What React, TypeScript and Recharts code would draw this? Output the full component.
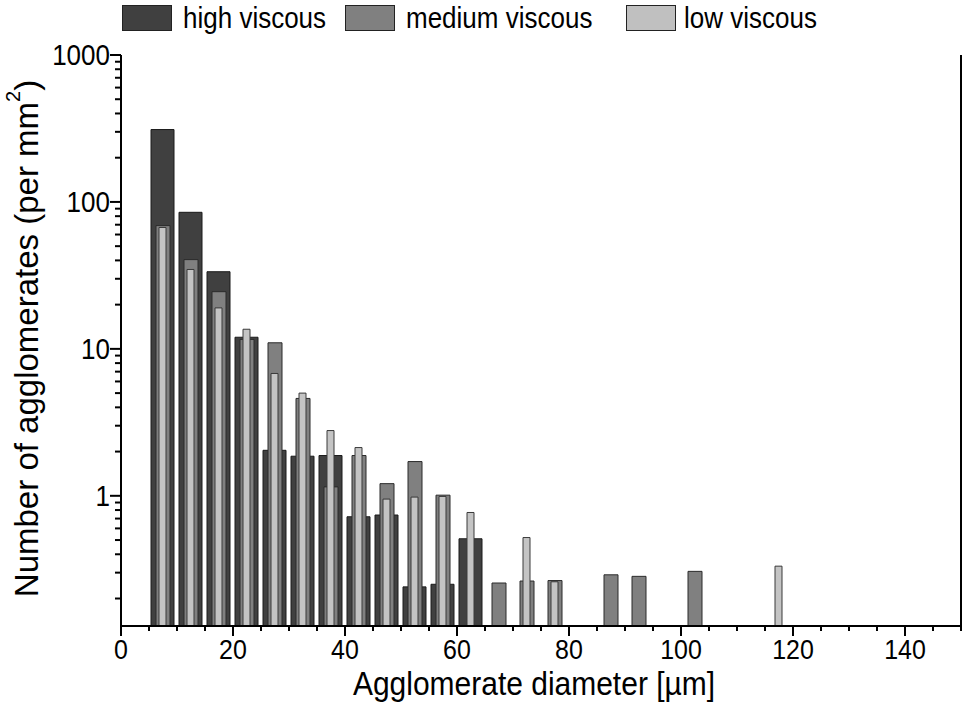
import React from "react";
import { ComposedChart, Bar, XAxis, YAxis, Label } from "recharts";

// bin centres of the diameter histogram (µm)
const diameters = [7.5, 12.5, 17.5, 22.5, 27.5, 32.5, 37.5, 42.5, 47.5, 52.5, 57.5, 62.5, 67.5, 72.5, 77.5, 87.5, 92.5, 102.5, 117.5];

const highViscous = [311, 85, 33.5, 12, 2.04, 1.86, 1.88, 0.72, 0.74, 0.24, 0.25, 0.51, null, null, null, null, null, null, null];
const mediumViscous = [69, 40.5, 24.5, 11.6, 11, 4.6, 1.15, 1.88, 1.21, 1.71, 1.01, null, 0.255, 0.263, 0.265, 0.29, 0.283, 0.306, null];
const lowViscous = [67, 34.7, 19, 13.6, 6.8, 5.0, 2.78, 2.13, 0.95, 0.98, 0.99, 0.77, null, 0.52, 0.26, null, null, null, 0.332];

const xTicks = Array.from({ length: 31 }, (_, i) => i * 5);
const topTicks = Array.from({ length: 11 }, (_, i) => i * 15);
const rightTicks = Array.from({ length: 11 }, (_, i) => i);
const yTicks = [0.2, 0.3, 0.4, 0.5, 0.6, 0.7, 0.8, 0.9, 1, 2, 3, 4, 5, 6, 7, 8, 9, 10, 20, 30, 40, 50, 60, 70, 80, 90, 100, 200, 300, 400, 500, 600, 700, 800, 900, 1000];

const data = diameters.map((d, i) => ({
    d,
    high: highViscous[i],
    medium: mediumViscous[i],
    low: lowViscous[i],
}));

const FONT = '"Liberation Sans", Arial, sans-serif';
// lettering in the original is slightly condensed (taller than wide)
const STRETCH = 1.1;

const legendItems = [
    { name: "high viscous", fill: "#404040", left: 122, textLeft: 183 },
    { name: "medium viscous", fill: "#808080", left: 345, textLeft: 406 },
    { name: "low viscous", fill: "#c0c0c0", left: 626, textLeft: 684 },
];

const TallText = ({ x, y, anchor, size, children }: any) => (
    <text
        transform={`translate(${x} ${y}) scale(1 ${STRETCH})`}
        x={0}
        y={0}
        textAnchor={anchor}
        fontSize={size}
        fontFamily={FONT}
        fill="#000"
    >
        {children}
    </text>
);

const BottomTick = (props: any) => {
    const { x, y, payload } = props;
    const major = payload.value % 20 === 0;
    return (
        <g>
            <line x1={x} x2={x} y1={y} y2={y + (major ? 10 : 5)} stroke="#000" strokeWidth={2} />
            {major && (
                <TallText x={x} y={y + 33} anchor="middle" size={25}>
                    {payload.value}
                </TallText>
            )}
        </g>
    );
};

const TopTick = (props: any) => {
    const { x, y, payload } = props;
    const major = payload.value % 30 === 0;
    return <line x1={x} x2={x} y1={y} y2={y + (major ? 10 : 5)} stroke="#000" strokeWidth={2} />;
};

const LeftTick = (props: any) => {
    const { x, y, payload } = props;
    const lg = Math.log10(payload.value);
    const major = Math.abs(lg - Math.round(lg)) < 1e-9;
    return (
        <g>
            <line x1={x} x2={x - (major ? 11 : 6)} y1={y} y2={y} stroke="#000" strokeWidth={2} />
            {major && (
                <TallText x={x - 11} y={y + 10} anchor="end" size={26}>
                    {payload.value}
                </TallText>
            )}
        </g>
    );
};

const RightTick = (props: any) => {
    const { x, y, payload } = props;
    const major = payload.value % 2 === 0;
    return <line x1={x} x2={x - (major ? 11 : 6)} y1={y} y2={y} stroke="#000" strokeWidth={2} />;
};

const YTitle = (props: any) => {
    const { viewBox } = props;
    const cx = viewBox.x + 26;
    const cy = viewBox.y + viewBox.height / 2 - 2;
    return (
        <text
            x={cx}
            y={cy}
            transform={`rotate(-90 ${cx} ${cy})`}
            textAnchor="middle"
            dominantBaseline="central"
            fontSize={33}
            fontFamily={FONT}
            fill="#000"
        >
            Number of agglomerates (per mm<tspan dy={-13} fontSize={20}>2</tspan>
            <tspan dy={13}>)</tspan>
        </text>
    );
};

const XTitle = (props: any) => {
    const { viewBox } = props;
    return (
        <TallText x={viewBox.x + viewBox.width / 2 - 7} y={viewBox.y + 69} anchor="middle" size={30}>
            Agglomerate diameter [µm]
        </TallText>
    );
};

export default function App() {
    return (
        <div style={{ position: "absolute", left: 0, top: 0, width: 963, height: 706, background: "#fff" }}>
            {legendItems.map((item) => (
                <React.Fragment key={item.name}>
                    <div
                        style={{
                            position: "absolute",
                            left: item.left,
                            top: 5,
                            width: 48,
                            height: 24,
                            background: item.fill,
                            border: "1px solid #222",
                        }}
                    />
                    <div
                        style={{
                            position: "absolute",
                            left: item.textLeft,
                            top: 0,
                            fontFamily: FONT,
                            fontSize: 26,
                            lineHeight: "36px",
                            color: "#000",
                            whiteSpace: "nowrap",
                            transform: `scaleY(${STRETCH})`,
                            transformOrigin: "0 18px",
                        }}
                    >
                        {item.name}
                    </div>
                </React.Fragment>
            ))}
            <ComposedChart width={963} height={706} data={data} margin={{ top: 55, right: 0, bottom: 0, left: 0 }}>
                <XAxis
                    xAxisId="bottom"
                    dataKey="d"
                    type="number"
                    domain={[0, 150]}
                    ticks={xTicks}
                    interval={0}
                    height={80}
                    tickSize={0}
                    tickMargin={0}
                    tickLine={false}
                    tick={BottomTick}
                    axisLine={{ stroke: "#000", strokeWidth: 2 }}
                >
                    <Label content={XTitle} />
                </XAxis>
                <XAxis xAxisId="mid" dataKey="d" type="number" domain={[0, 150]} hide />
                <XAxis xAxisId="lowx" dataKey="d" type="number" domain={[0, 150]} hide />
                <XAxis
                    xAxisId="top"
                    orientation="top"
                    type="number"
                    dataKey="d"
                    domain={[0, 150]}
                    ticks={topTicks}
                    interval={0}
                    height={0}
                    tickSize={0}
                    tickMargin={0}
                    tickLine={false}
                    tick={TopTick}
                    axisLine={{ stroke: "#000", strokeWidth: 2 }}
                />
                <YAxis
                    yAxisId="left"
                    scale="log"
                    type="number"
                    domain={[0.13, 1000]}
                    allowDataOverflow
                    ticks={yTicks}
                    interval={0}
                    width={121}
                    tickSize={0}
                    tickMargin={0}
                    tickLine={false}
                    tick={LeftTick}
                    axisLine={{ stroke: "#000", strokeWidth: 2 }}
                >
                    <Label content={YTitle} />
                </YAxis>
                <YAxis
                    yAxisId="right"
                    orientation="right"
                    type="number"
                    domain={[0, 10]}
                    ticks={rightTicks}
                    interval={0}
                    width={2}
                    tickSize={0}
                    tickMargin={0}
                    tickLine={false}
                    tick={RightTick}
                    axisLine={{ stroke: "#000", strokeWidth: 2 }}
                />
                <Bar
                    xAxisId="bottom"
                    yAxisId="left"
                    dataKey="high"
                    name="high viscous"
                    barSize={23}
                    fill="#404040"
                    stroke="#1a1a1a"
                    strokeWidth={1}
                    isAnimationActive={false}
                />
                <Bar
                    xAxisId="mid"
                    yAxisId="left"
                    dataKey="medium"
                    name="medium viscous"
                    barSize={14}
                    fill="#808080"
                    stroke="#2a2a2a"
                    strokeWidth={1}
                    isAnimationActive={false}
                />
                <Bar
                    xAxisId="lowx"
                    yAxisId="left"
                    dataKey="low"
                    name="low viscous"
                    barSize={7}
                    fill="#c4c4c4"
                    stroke="#3a3a3a"
                    strokeWidth={1}
                    isAnimationActive={false}
                />
            </ComposedChart>
        </div>
    );
}
